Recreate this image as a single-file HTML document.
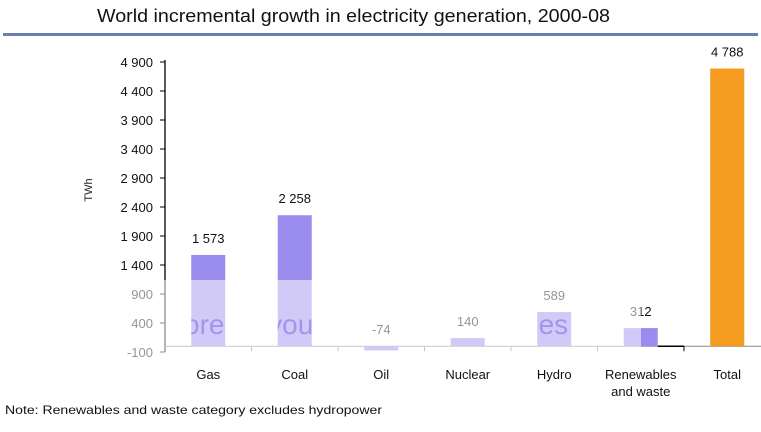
<!DOCTYPE html>
<html><head><meta charset="utf-8"><style>
body{margin:0;background:#fff;}
svg text{font-family:"Liberation Sans",sans-serif;}
</style></head><body>
<svg id="c" width="761" height="427" xmlns="http://www.w3.org/2000/svg">
<text x="97" y="22" textLength="513" lengthAdjust="spacingAndGlyphs" font-size="18" fill="#111">World incremental growth in electricity generation, 2000-08</text>
<rect x="3" y="33" width="755" height="3" fill="#6B7FAF"/>
<text transform="translate(92,190) rotate(-90)" text-anchor="middle" font-size="11" fill="#222">TWh</text>
<text x="5" y="414" textLength="377" lengthAdjust="spacingAndGlyphs" font-size="12" fill="#111">Note: Renewables and waste category excludes hydropower</text>
<defs id="d"></defs>
<g id="g"></g>
</svg>
<script>
const categories=["Gas","Coal","Oil","Nuclear","Hydro","Renewables|and waste","Total"];
const values=[1573,2258,-74,140,589,312,4788];
const labels=["1 573","2 258","-74","140","589","312","4 788"];
const ticks=[-100,400,900,1400,1900,2400,2900,3400,3900,4400,4900];
const tickLabels=["-100","400","900","1 400","1 900","2 400","2 900","3 400","3 900","4 400","4 900"];
const NS="http://www.w3.org/2000/svg",g=document.getElementById('g'),defs=document.getElementById('d');
const y=v=>346.2-v*0.058;
const x0=165,cw=86.5,bw=34;
const cx=i=>x0+cw*i+cw/2;
function mk(t,a,p){const e=document.createElementNS(NS,t);for(const k in a)e.setAttribute(k,a[k]);(p||g).appendChild(e);return e;}
let ax=mk('line',{x1:x0,y1:y(4900)-2,x2:x0,y2:y(-100),stroke:'#000','stroke-width':1.3});


ticks.forEach((t,i)=>{
 let l=mk('line',{x1:x0-5,x2:x0,y1:y(t),y2:y(t),stroke:'#000'});
 
 
 let tx=mk('text',{x:x0-12,y:y(t)+5,'text-anchor':'end','font-size':13,fill:'#111'});tx.textContent=tickLabels[i];
 
 
});
let xa=mk('line',{x1:x0,x2:x0+cw*7,y1:y(0),y2:y(0),stroke:'#888'});


for(let i=1;i<=7;i++){let l=mk('line',{x1:x0+cw*i,x2:x0+cw*i,y1:y(0),y2:y(0)+5,stroke:i==6?'#000':'#888'});
 
 }
let cn=mk('line',{x1:cx(5)+bw/2,x2:x0+cw*6,y1:y(0),y2:y(0),stroke:'#000','stroke-width':1.5});


categories.forEach((c,i)=>{
 const v=values[i],top=y(Math.max(v,0)),bot=y(Math.min(v,0));
 let r=mk('rect',{x:cx(i)-bw/2,y:top,width:bw,height:Math.max(bot-top,1),fill:i==6?'#F59B1F':'#9A8BEE'});
 
 
 let cp=mk('clipPath',{id:'cp'+i},defs);
 mk('rect',{x:cx(i)-bw/2,y:top,width:bw,height:Math.max(bot-top,1)},cp);
 let t=mk('text',{x:cx(i),y:top-12,'text-anchor':'middle','font-size':13,fill:'#111'});t.textContent=labels[i];
 
 
 c.split('|').forEach((p,j)=>{let ct=mk('text',{x:cx(i),y:379+j*17,'text-anchor':'middle','font-size':13,fill:'#111'});ct.textContent=p;
  
  });
});
let ov=mk('rect',{x:112,y:280,width:529,height:80,fill:'#fff','fill-opacity':0.55});


[["ore",0],["you",1],["les",4]].forEach(([w,i])=>{
 let t=mk('text',{x:cx(i)-4,y:334,'text-anchor':'middle','font-size':28,fill:'#9A8BEE','fill-opacity':0.85,'clip-path':'url(#cp'+i+')'});t.textContent=w;
 
 
});
</script>
</body></html>
